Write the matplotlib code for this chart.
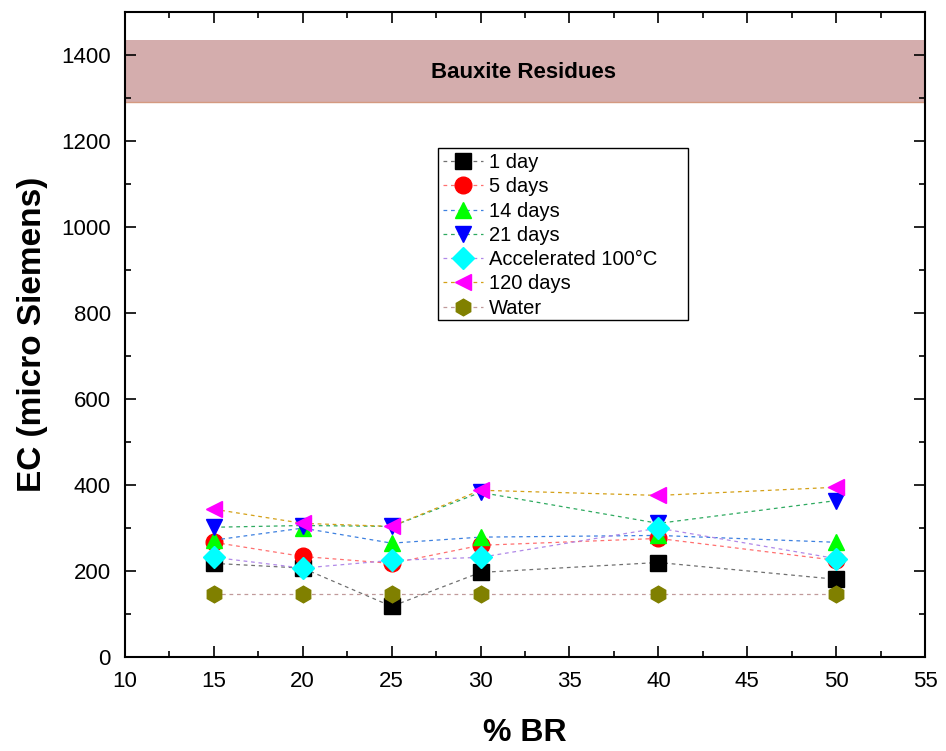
import matplotlib
matplotlib.use("Agg")
import matplotlib.pyplot as plt
from matplotlib.patches import Rectangle
from matplotlib.ticker import MultipleLocator

plt.rcParams['font.family'] = ['Liberation Sans', 'DejaVu Sans']

br = [15, 20, 25, 30, 40, 50]
day1 = [218, 207, 118, 197, 220, 181]
day5 = [267, 234, 218, 260, 276, 225]
day14 = [272, 300, 265, 279, 283, 267]
day21 = [302, 306, 304, 383, 311, 364]
accel = [232, 207, 225, 232, 300, 229]
day120 = [344, 311, 304, 388, 376, 395]
water = [147, 147, 147, 147, 147, 147]

series = [
    ("1 day", day1, 's', 'black', '#707070'),
    ("5 days", day5, 'o', 'red', '#ff7070'),
    ("14 days", day14, '^', '#00ff00', '#3d80e0'),
    ("21 days", day21, 'v', 'blue', '#2eaa60'),
    ("Accelerated 100°C", accel, 'D', 'cyan', '#b088e8'),
    ("120 days", day120, '<', 'magenta', '#d4a017'),
    ("Water", water, 'h', '#808000', '#c09a9a'),
]

fig = plt.figure(figsize=(9.46, 7.51), dpi=100)
ax = fig.add_axes([0.132, 0.125, 0.846, 0.859])

ax.axhspan(1290, 1435, facecolor='#d4adad', edgecolor='none', zorder=0)
ax.axhline(1290, color='#d49a80', lw=1, zorder=0)
ax.text(32.4, 1360, "Bauxite Residues", ha='center', va='center',
        fontsize=16, fontweight='bold')

for name, vals, mk, mc, lc in series:
    ms = 11 if mk == 'D' else 12
    ax.plot(br, vals, linestyle=(0, (3, 3)), color=lc, lw=0.9,
            marker=mk, markersize=ms, markerfacecolor=mc,
            markeredgecolor=mc, label=name)

ax.set_xlim(10, 55)
ax.set_ylim(0, 1500)
ax.xaxis.set_major_locator(MultipleLocator(5))
ax.xaxis.set_minor_locator(MultipleLocator(2.5))
ax.yaxis.set_major_locator(MultipleLocator(200))
ax.yaxis.set_minor_locator(MultipleLocator(100))
ax.tick_params(which='both', direction='in', top=True, right=True, width=1.2)
ax.tick_params(which='major', length=8, pad=10, labelsize=16)
ax.tick_params(which='minor', length=4)
for s in ax.spines.values():
    s.set_linewidth(1.5)

ax.set_xlabel("% BR", fontsize=23, fontweight='bold', va='center')
ax.set_ylabel("EC (micro Siemens)", fontsize=24, fontweight='bold', va='center')
ax.xaxis.set_label_coords(0.5, -0.118)
ax.yaxis.set_label_coords(-0.115, 0.5)

# legend with its own frame (wider box, as in the original)
leg = ax.legend(loc='upper left', bbox_to_anchor=(0.391, 0.789), fontsize=14.5,
                frameon=False, handlelength=2.0, labelspacing=0.26,
                borderpad=0.25, handletextpad=0.3, borderaxespad=0)
ax.add_patch(Rectangle((0.391, 0.522), 0.3125, 0.267, transform=ax.transAxes,
                       fill=False, edgecolor='black', lw=1.0, zorder=5))

fig.savefig("out.png", dpi=100)
